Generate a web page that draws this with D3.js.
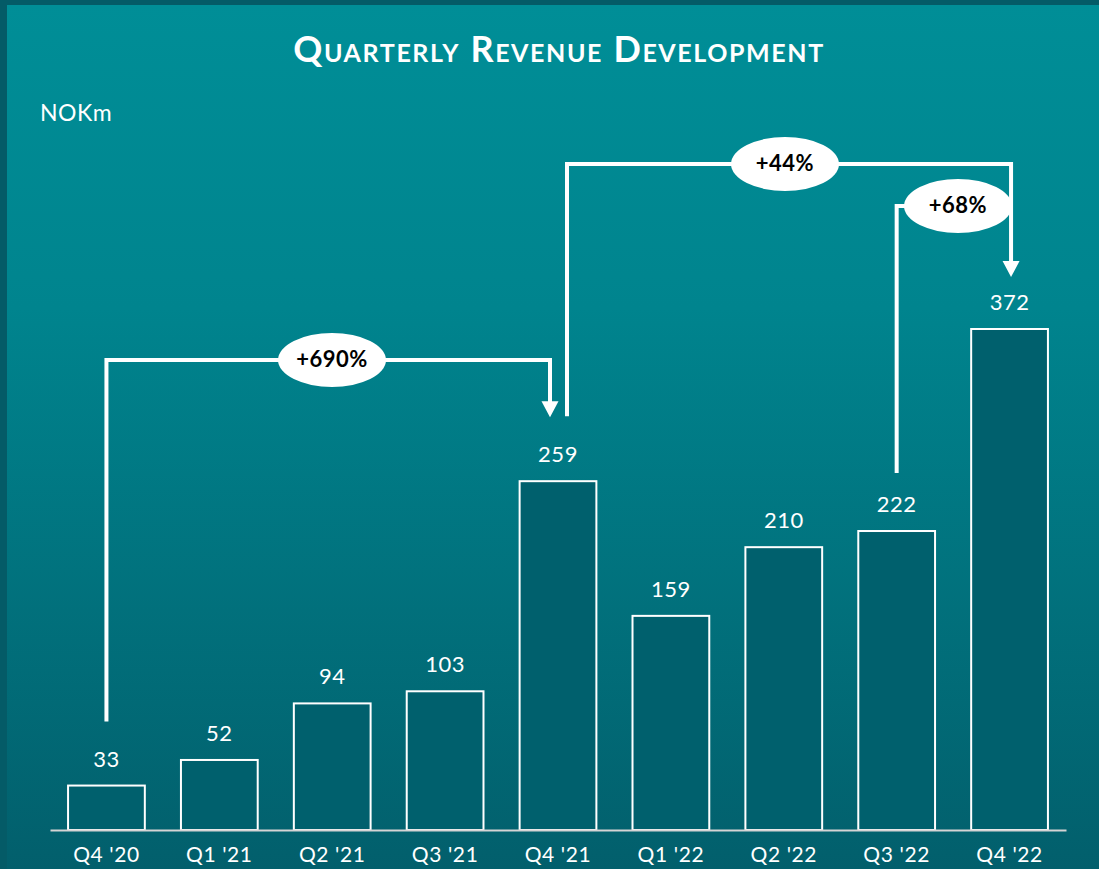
<!DOCTYPE html>
<html>
<head>
<meta charset="utf-8">
<script src="https://cdn.jsdelivr.net/npm/d3@7"></script>
<style>
  html, body { margin: 0; padding: 0; background: #045b67; }
  svg { display: block; }
</style>
</head>
<body>
<div id="chart"></div>
<script>
// data
var quarters = ["Q4 '20", "Q1 '21", "Q2 '21", "Q3 '21", "Q4 '21", "Q1 '22", "Q2 '22", "Q3 '22", "Q4 '22"];
var revenue = [33, 52, 94, 103, 259, 159, 210, 222, 372];
var growthLabels = ["+690%", "+44%", "+68%"];
var growthFrom = ["Q4 '20", "Q4 '21", "Q3 '22"];
var growthTo = ["Q4 '21", "Q4 '22", "Q4 '22"];

var W = 1099, H = 869;
var svg = d3.select('#chart').append('svg').attr("width", W).attr("height", H);

// background gradient
var defs = svg.append("defs");
var grad = defs.append("linearGradient").attr("id", "bg").attr("x1", 0).attr("y1", 0).attr("x2", 0).attr("y2", 1);
grad.append("stop").attr("offset", "0%").attr("stop-color", "#008e97");
grad.append("stop").attr("offset", "35%").attr("stop-color", "#00848e");
grad.append("stop").attr("offset", "100%").attr("stop-color", "#025f6c");
svg.append("rect").attr("width", W).attr("height", H).attr("fill", "#045b67");
svg.append("rect").attr("x", 7).attr("y", 5).attr("width", W - 7).attr("height", H - 5).attr("fill", "url(#bg)");

// scales
var x_scale = d3.scaleBand().domain(quarters).range([50, 1066]).paddingInner(0.32).paddingOuter(0.16);
var y_scale = d3.scaleLinear().domain([0, 372]).range([830, 329]);

// title
svg.append("text")
    .attr("x", 559).attr("y", 62)
    .attr("text-anchor", "middle")
    .style("font-family", "Lato, 'Open Sans', sans-serif")
    .style("font-weight", "bold")
    .style("font-size", "36px")
    .style("font-variant", "small-caps")
    .style("letter-spacing", "1.6px")
    .attr("fill", "white")
    .text("Quarterly Revenue Development");

svg.append("text")
    .attr("x", 40).attr("y", 121)
    .style("font-family", "Lato, sans-serif")
    .style("font-size", "23px")
    .style("letter-spacing", "0.5px")
    .attr("fill", "white")
    .text("NOKm");

// bars
svg.selectAll("rect.bar")
    .data(revenue)
    .enter()
    .append("rect")
    .attr("class", "bar")
    .attr("x", function (d, i) { return x_scale(quarters[i]); })
    .attr("y", function (d) { return y_scale(d); })
    .attr("width", x_scale.bandwidth())
    .attr("height", function (d) { return y_scale(0) - y_scale(d); })
    .attr("fill", "#00606d")
    .attr("stroke", "white")
    .attr("stroke-width", 2);

// value labels
svg.selectAll("text.val")
    .data(revenue)
    .enter()
    .append("text")
    .attr("class", "val")
    .attr("x", function (d, i) { return x_scale(quarters[i]) + x_scale.bandwidth() / 2; })
    .attr("y", function (d) { return y_scale(d) - 19; })
    .attr("text-anchor", "middle")
    .style("font-family", "Lato, sans-serif")
    .style("font-size", "22px")
    .style("letter-spacing", "0.5px")
    .attr("fill", "white")
    .text(function (d) { return d; });

// x axis
var x_axis = d3.axisBottom(x_scale).tickSize(0).tickPadding(17);
var gx = svg.append("g").attr("transform", "translate(0," + y_scale(0) + ")").call(x_axis);
gx.select(".domain").attr("stroke", "#d4d4d4").attr("stroke-width", 2);
gx.selectAll("text")
    .style("font-family", "Lato, sans-serif")
    .style("font-size", "21px")
    .style("letter-spacing", "0.6px")
    .attr("fill", "white");

// growth brackets
function cx(q) { return x_scale(q) + x_scale.bandwidth() / 2; }
var annotations = [
    { x1: cx(growthFrom[0]), y1: y_scale(revenue[0]) - 64, x2: cx(growthTo[0]) - 8, y2: y_scale(revenue[4]) - 64, level: 360, lx: 332, arrow: true },
    { x1: cx(growthFrom[1]) + 9, y1: y_scale(revenue[4]) - 65, x2: cx(growthTo[1]) + 1.5, y2: y_scale(revenue[8]) - 52, level: 164, lx: 785, arrow: true },
    { x1: cx(growthFrom[2]), y1: y_scale(revenue[7]) - 58, x2: 958, y2: 206, level: 206, lx: 958, arrow: false }
];

var ann = svg.append("g");
annotations.forEach(function (a, i) {
    var path = "M" + a.x1 + "," + a.y1 + " V" + a.level + " H" + a.x2;
    if (a.arrow) path += " V" + (a.y2 - 15);
    ann.append("path")
        .attr("d", path)
        .attr("fill", "none")
        .attr("stroke", "white")
        .attr("stroke-width", 4);
    if (a.arrow) {
        ann.append("path")
            .attr("d", "M" + (a.x2 - 8.5) + "," + (a.y2 - 16) + " L" + (a.x2 + 8.5) + "," + (a.y2 - 16) + " L" + a.x2 + "," + a.y2 + " Z")
            .attr("fill", "white");
    }
    ann.append("ellipse")
        .attr("cx", a.lx).attr("cy", a.level)
        .attr("rx", 54).attr("ry", 27)
        .attr("fill", "white");
    ann.append("text")
        .attr("x", a.lx).attr("y", a.level + 7)
        .attr("text-anchor", "middle")
        .style("font-family", "Lato, sans-serif")
        .style("font-weight", "bold")
        .style("font-size", "22px")
        .style("letter-spacing", "0.5px")
        .attr("fill", "black")
        .text(growthLabels[i]);
});
</script>
</body>
</html>
